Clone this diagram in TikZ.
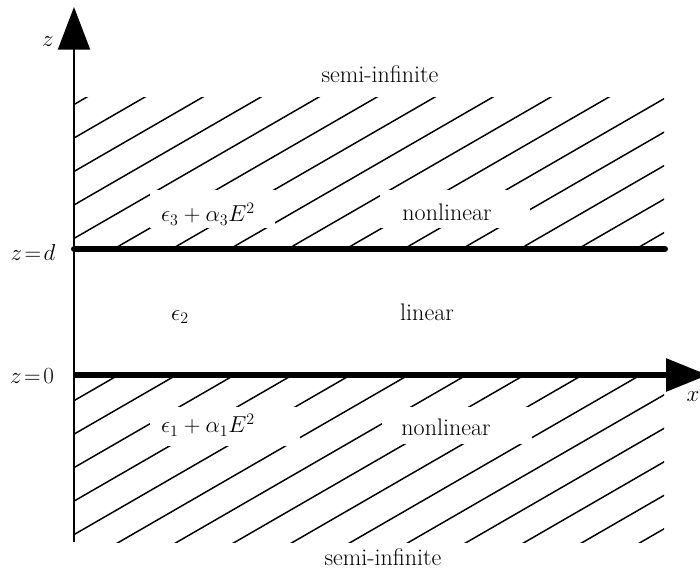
\documentclass[tikz,border=0pt]{standalone}
\usetikzlibrary{arrows.meta}
\begin{document}
\begin{tikzpicture}[x=0.75pt,y=-0.75pt,
  lbl/.style={font=\fontsize{18}{22}\selectfont, inner sep=0pt},
  hatch/.style={line width=1.1pt},
  gapbox/.style={fill=white, draw=none},
  interface/.style={line width=4.5pt, line cap=round},
  zaxis/.style={line width=1.6pt, -{Triangle[length=32pt,width=24pt]}},
  xaxis/.style={line width=4.5pt, -{Triangle[length=31.5pt,width=24pt]}}
]
\useasboundingbox (0,0) rectangle (700,572);
\clip (0,0) rectangle (700,572);

% coordinates
\coordinate (zbot) at (74,542);
\coordinate (ztop) at (74,7);
\coordinate (O) at (74,375);
\coordinate (xend) at (708,375);
\coordinate (dleft) at (74,249);
\coordinate (dright) at (665,249);

% hatching, upper half-space
\begin{scope}
  \clip (74,97) rectangle (664,248);
  \foreach \k in {-1,...,15} {
    \draw[hatch] ({87+58*\k-320},{97+0.57735*320}) -- ({87+58*\k+40},{97-0.57735*40});
  }
\end{scope}
% hatching, lower half-space
\begin{scope}
  \clip (74,377) rectangle (664,542);
  \foreach \k in {-1,...,15} {
    \draw[hatch] ({115+58*\k-320},{377+0.57735*320}) -- ({115+58*\k+40},{377-0.57735*40});
  }
\end{scope}

% gaps in the hatching around the labels
\fill[gapbox] (150,190) rectangle (275,228);
\fill[gapbox] (380,190) rectangle (530,228);
\fill[gapbox] (150,407) rectangle (300,446);
\fill[gapbox] (382,407) rectangle (532,444);

% axes and interfaces
\draw[zaxis] (zbot) -- (ztop);
\draw[interface] (dleft) -- (dright);
\draw[xaxis] (O) -- (xend);

% labels
\node[lbl] (zl) at (48,42) {$z$};
\node[lbl] (xl) at (693,397) {$x$};
\node[lbl] (zd) at (33,252) {$z\!=\!d$};
\node[lbl] (z0) at (32,376) {$z\!=\!0$};
\node[lbl] (sitop) at (380,74) {semi-infinite};
\node[lbl] (e3) at (208,214) {$\epsilon_3+\alpha_3E^2$};
\node[lbl] (nltop) at (447,212) {nonlinear};
\node[lbl] (e2) at (180,317) {$\epsilon_2$};
\node[lbl] (lin) at (427,312) {linear};
\node[lbl] (e1) at (208,425) {$\epsilon_1+\alpha_1E^2$};
\node[lbl] (nlbot) at (446,427) {nonlinear};
\node[lbl] (sibot) at (383,557) {semi-infinite};
\end{tikzpicture}
\end{document}
